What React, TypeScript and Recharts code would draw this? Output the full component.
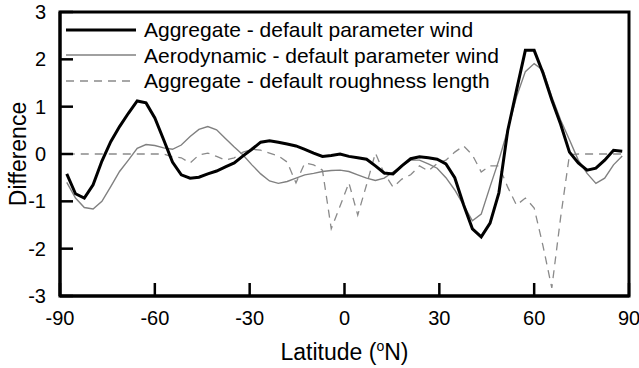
import React from "react";
import {
  LineChart,
  Line,
  XAxis,
  YAxis,
  Legend,
  ReferenceArea,
  Label,
} from "recharts";

// T42 gaussian latitudes (deg N)
const latitudes = [
  -87.86, -85.1, -82.31, -79.53, -76.74, -73.95, -71.16, -68.37, -65.58, -62.79,
  -60.0, -57.21, -54.42, -51.63, -48.84, -46.05, -43.25, -40.46, -37.67, -34.88,
  -32.09, -29.3, -26.51, -23.72, -20.93, -18.14, -15.35, -12.56, -9.77, -6.98,
  -4.19, -1.4, 1.4, 4.19, 6.98, 9.77, 12.56, 15.35, 18.14, 20.93,
  23.72, 26.51, 29.3, 32.09, 34.88, 37.67, 40.46, 43.25, 46.05, 48.84,
  51.63, 54.42, 57.21, 60.0, 62.79, 65.58, 68.37, 71.16, 73.95, 76.74,
  79.53, 82.31, 85.1, 87.86,
];

// Aggregate - default parameter wind
const aggregateWind = [
  -0.42, -0.84, -0.93, -0.65, -0.15, 0.26, 0.58, 0.86, 1.12, 1.08,
  0.76, 0.3, -0.17, -0.44, -0.51, -0.49, -0.42, -0.36, -0.27, -0.19,
  -0.04, 0.1, 0.25, 0.28, 0.25, 0.21, 0.17, 0.1, 0.02, -0.05,
  -0.03, 0.0, -0.05, -0.08, -0.11, -0.25, -0.4, -0.42, -0.25, -0.1,
  -0.06, -0.08, -0.11, -0.21, -0.5, -1.07, -1.58, -1.75, -1.46, -0.82,
  0.49, 1.35, 2.19, 2.19, 1.71, 1.14, 0.63, 0.04, -0.19, -0.34,
  -0.3, -0.13, 0.08, 0.06,
];

// Aerodynamic - default parameter wind
const aerodynamicWind = [
  -0.6, -0.93, -1.13, -1.16, -1.0, -0.69, -0.37, -0.13, 0.12, 0.2,
  0.18, 0.13, 0.1, 0.19, 0.37, 0.52, 0.58, 0.51, 0.33, 0.15,
  -0.02, -0.23, -0.42, -0.57, -0.62, -0.58, -0.51, -0.44, -0.41, -0.37,
  -0.35, -0.34, -0.37, -0.44, -0.51, -0.56, -0.51, -0.38, -0.25, -0.13,
  -0.13, -0.21, -0.3, -0.5, -0.76, -1.08, -1.41, -1.27, -0.69, -0.13,
  0.51, 1.21, 1.74, 1.91, 1.77, 1.21, 0.72, 0.3, -0.13, -0.41,
  -0.62, -0.51, -0.23, -0.04,
];

// Aggregate - default roughness length
const aggregateRoughness = [
  0, 0, 0, 0, 0, 0, 0, 0, 0, 0,
  0, 0, -0.06, -0.08, -0.19, -0.02, 0.02, -0.05, -0.13, -0.08,
  0.04, 0.1, 0.08, 0.02, -0.04, -0.17, -0.61, -0.19, -0.23, -0.34,
  -1.58, -1.1, -0.61, -1.29, -0.65, 0.02, -0.41, -0.7, -0.53, -0.44,
  -0.25, -0.36, -0.2, -0.13, 0.04, 0.17, -0.02, -0.38, -0.25, -0.25,
  -0.7, -1.08, -0.93, -1.14, -1.94, -2.83, -1.34, -0.02, 0, 0,
  0, 0, 0, 0,
];

const xTicks = [-90, -60, -30, 0, 30, 60, 90];
const yTicks = [-3, -2, -1, 0, 1, 2, 3];

const data = latitudes.map((lat, i) => ({
  lat,
  agg: aggregateWind[i],
  aero: aerodynamicWind[i],
  rough: aggregateRoughness[i],
}));

const FONT = '"Liberation Sans", Arial, Helvetica, sans-serif';

const legendItems = [
  { label: "Aggregate - default parameter wind", stroke: "#000", width: 3, dash: undefined },
  { label: "Aerodynamic - default parameter wind", stroke: "#808080", width: 1.4, dash: undefined },
  { label: "Aggregate - default roughness length", stroke: "#8a8a8a", width: 1.3, dash: "8 6" },
];

const ChartLegend = () => (
  <div style={{ fontFamily: FONT, fontSize: 21, color: "#000" }}>
    {legendItems.map((item) => (
      <div
        key={item.label}
        style={{ display: "flex", alignItems: "center", height: 25.5, whiteSpace: "nowrap" }}
      >
        <svg width={70} height={24} style={{ marginRight: 8 }}>
          <line
            x1={0}
            x2={70}
            y1={12}
            y2={12}
            stroke={item.stroke}
            strokeWidth={item.width}
            strokeDasharray={item.dash}
          />
        </svg>
        <span style={{ lineHeight: "25.5px" }}>{item.label}</span>
      </div>
    ))}
  </div>
);

const XTitle = ({ viewBox }: any) => {
  const cx = viewBox.x + viewBox.width / 2;
  return (
    <text x={cx} y={360} textAnchor="middle" fontFamily={FONT} fontSize={23} fill="#000">
      Latitude (
      <tspan fontSize={14} dy={-9}>o</tspan>
      <tspan dy={9}>N)</tspan>
    </text>
  );
};

const YTitle = ({ viewBox }: any) => {
  const cy = viewBox.y + viewBox.height / 2;
  return (
    <text
      x={18}
      y={cy}
      transform={`rotate(-90 18 ${cy})`}
      textAnchor="middle"
      dominantBaseline="central"
      fontFamily={FONT}
      fontSize={23}
      fill="#000"
    >
      Difference
    </text>
  );
};

export default function App() {
  return (
    <div style={{ position: "absolute", left: 0, top: 0, width: 639, height: 368, background: "#fff" }}>
      <LineChart
        width={639}
        height={368}
        data={data}
        margin={{ top: 12, right: 10, left: 0, bottom: 0 }}
      >
        <XAxis
          dataKey="lat"
          type="number"
          domain={[-90, 90]}
          ticks={xTicks}
          interval={0}
          height={72}
          tickSize={-13}
          tickMargin={28}
          axisLine={{ stroke: "#000", strokeWidth: 3 }}
          tickLine={{ stroke: "#000", strokeWidth: 2.5 }}
          tick={{ fill: "#000", fontSize: 20, fontFamily: FONT }}
        >
          <Label content={<XTitle />} />
        </XAxis>
        <YAxis
          type="number"
          domain={[-3, 3]}
          ticks={yTicks}
          interval={0}
          width={60}
          tickSize={-13}
          tickMargin={27}
          axisLine={{ stroke: "#000", strokeWidth: 3 }}
          tickLine={{ stroke: "#000", strokeWidth: 2.5 }}
          tick={{ fill: "#000", fontSize: 20, fontFamily: FONT }}
        >
          <Label content={<YTitle />} />
        </YAxis>
        <ReferenceArea
          x1={-90}
          x2={90}
          y1={-3}
          y2={3}
          fill="none"
          fillOpacity={0}
          stroke="#000"
          strokeWidth={3}
          ifOverflow="visible"
        />
        <Legend
          layout="vertical"
          align="center"
          verticalAlign="middle"
          content={<ChartLegend />}
          wrapperStyle={{ left: 66, top: 17, width: 480 }}
        />
        <Line
          type="linear"
          dataKey="rough"
          stroke="#8a8a8a"
          strokeWidth={1.3}
          strokeDasharray="8 6"
          dot={false}
          isAnimationActive={false}
        />
        <Line
          type="linear"
          dataKey="aero"
          stroke="#808080"
          strokeWidth={1.4}
          dot={false}
          isAnimationActive={false}
        />
        <Line
          type="linear"
          dataKey="agg"
          stroke="#000"
          strokeWidth={3}
          dot={false}
          isAnimationActive={false}
        />
      </LineChart>
    </div>
  );
}
